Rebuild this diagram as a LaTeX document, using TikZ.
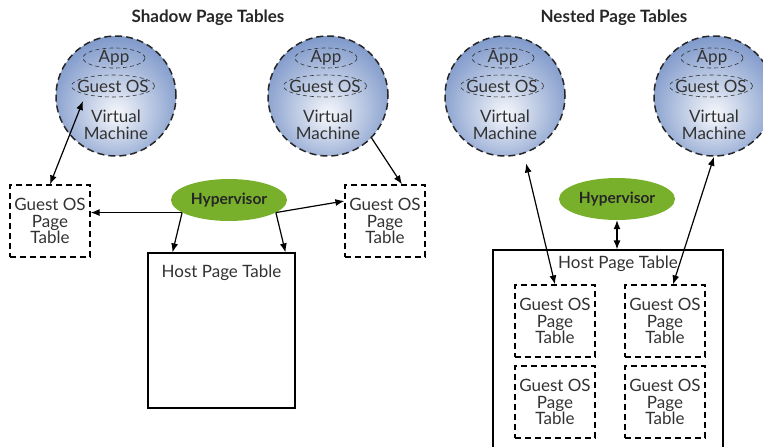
\documentclass[tikz,border=0pt]{standalone}
\usepackage{fontspec}
\setmainfont{Lato}
\usetikzlibrary{shapes.geometric, arrows.meta}
\definecolor{VMBlue}{RGB}{68,106,178}
\definecolor{HVGreen}{RGB}{120,176,44}
\definecolor{InkGray}{RGB}{50,50,50}
\pgfdeclareradialshading{vmglow}{\pgfpoint{0bp}{-8bp}}{color(0bp)=(VMBlue!4); color(12bp)=(VMBlue!32); color(34bp)=(VMBlue!80); color(55bp)=(VMBlue)}

\begin{document}
\begin{tikzpicture}[x=1pt, y=-1pt,
    txt/.style={font=\fontsize{17}{16.5}\selectfont, text=InkGray, align=center},
    ttl/.style={font=\bfseries\fontsize{17}{18}\selectfont, text=black!85},
    vmball/.style={circle, draw=black!85, line width=1.5pt, dash pattern=on 7pt off 4pt,
                   minimum size=120pt, inner sep=0pt, shading=vmglow},
    inner/.style={ellipse, draw=black!80, line width=0.6pt, dash pattern=on 4pt off 3pt, inner sep=0pt},
    hyp/.style={ellipse, fill=HVGreen, minimum width=116pt, minimum height=42pt, inner sep=0pt,
                font=\bfseries\fontsize{15.5}{17}\selectfont, text=black!85},
    gpt/.style={rectangle, draw=black, line width=1.2pt, dash pattern=on 6pt off 4pt,
                minimum width=80pt, minimum height=72pt, inner sep=0pt, txt},
    host/.style={rectangle, draw=black, line width=1.2pt},
    arr/.style={-{Latex[length=9pt,width=7pt]}, line width=1.2pt},
    darr/.style={{Latex[length=9pt,width=7pt]}-{Latex[length=9pt,width=7pt]}, line width=1.2pt}
  ]
  \useasboundingbox (0,0) rectangle (763,447);
  \clip (0,0) rectangle (763,447);

  % titles
  \node[ttl] (ttlshadow) at (208, 18) {Shadow Page Tables};
  \node[ttl] (ttlnested) at (614, 18) {Nested Page Tables};

  % virtual machines
  \foreach \n/\x in {a/116, b/328, c/505, d/714} {
    \node[vmball] (vm\n) at (\x, 96) {};
    \node[inner, minimum width=62pt, minimum height=20pt, label={[txt]center:App}] (app\n) at (\x-2, 58) {};
    \node[inner, minimum width=83pt, minimum height=22pt, label={[txt]center:Guest OS}] (gos\n) at (\x-3, 86) {};
    \node[txt] (vmt\n) at (\x, 125) {Virtual\\Machine};
  }

  % shadow page tables
  \node[gpt] (gl) at (50, 221) {Guest OS\\Page\\Table};
  \node[gpt] (gr) at (385, 221) {Guest OS\\Page\\Table};
  \node[hyp] (hypl) at (229, 200) {Hypervisor};
  \node[host, minimum width=147pt, minimum height=155pt] (hostl) at (221.5, 330.5) {};
  \node[txt] (hostlt) at ([yshift=-20pt]hostl.north) {Host Page Table};

  \coordinate (vmaport) at (83, 101);
  \draw[darr] (vmaport) -- (gl.north);
  \draw[arr] (vmb.316) -- ([xshift=17pt]gr.north);
  \draw[arr] (hypl.195) -- (hypl.195 -| gl.east);
  \draw[arr] (hypl.195) -- ([xshift=-49pt]hostl.north);
  \draw[arr] (hypl.345) -- ([yshift=20pt]gr.west);
  \draw[arr] (hypl.345) -- ([xshift=64pt]hostl.north);

  % nested page tables
  \node[hyp] (hypr) at (617, 199) {Hypervisor};
  \node[host, minimum width=230pt, minimum height=220pt] (hostr) at (608, 360) {};
  \node[txt] (hostrt) at ([xshift=10pt, yshift=-14pt]hostr.north) {Host Page Table};
  \node[gpt] (n1) at (555, 321) {Guest OS\\Page\\Table};
  \node[gpt] (n2) at (665, 321) {Guest OS\\Page\\Table};
  \node[gpt] (n3) at (555, 402) {Guest OS\\Page\\Table};
  \node[gpt] (n4) at (665, 402) {Guest OS\\Page\\Table};

  \draw[darr] (hypr.south) -- (hypr.south |- hostr.north);
  \draw[darr, shorten <=10pt] (vmc.288) -- (n1.north);
  \draw[darr] (vmd.south) -- ([xshift=8pt]n2.north);
\end{tikzpicture}
\end{document}
